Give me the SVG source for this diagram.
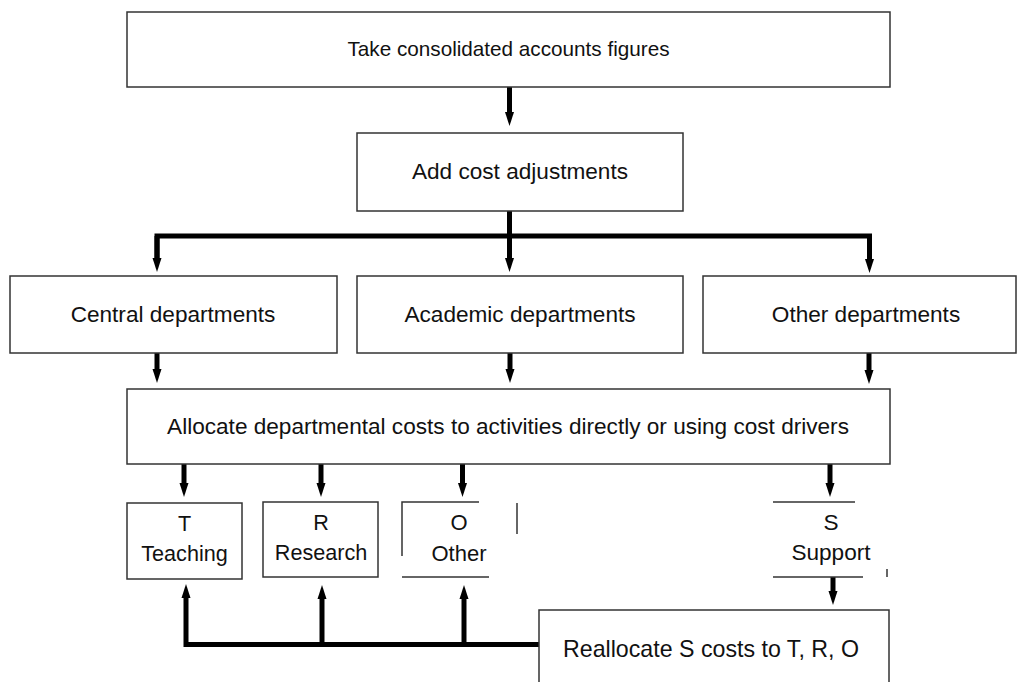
<svg xmlns="http://www.w3.org/2000/svg" width="1017" height="682" viewBox="0 0 1017 682">
  <style>
    .box { fill: #ffffff; stroke: #333333; stroke-width: 1.5; }
    .edge { fill: none; stroke: #333333; stroke-width: 1.5; }
    .flow { fill: none; stroke: #000000; stroke-width: 5; }
    .lbl { font-family: "Liberation Sans", Arial, Helvetica, sans-serif; font-size: 22.6px; fill: #111111; text-anchor: middle; }
  </style>
  <defs>
    <marker id="head" markerUnits="userSpaceOnUse" orient="auto" markerWidth="30" markerHeight="30" viewBox="-10 -10 30 20" refX="0" refY="0" overflow="visible">
      <path d="M-4,-4.5 L10,0 L-4,4.5 Z" fill="#000000"/>
    </marker>
  </defs>

  <rect width="1017" height="682" fill="#ffffff"/>

  <!-- connectors -->
  <g id="connectors">
    <path class="flow" d="M509.5,87 V116" marker-end="url(#head)"/>
    <path class="flow" d="M509.5,211 V262" marker-end="url(#head)"/>
    <path class="flow" d="M157,262 V236 H869.5 V262" />
    <path class="flow" d="M157,236 V262" marker-end="url(#head)"/>
    <path class="flow" d="M869.5,236 V263" marker-end="url(#head)"/>

    <path class="flow" d="M157,353 V373" marker-end="url(#head)"/>
    <path class="flow" d="M510,353 V373" marker-end="url(#head)"/>
    <path class="flow" d="M869,353 V374" marker-end="url(#head)"/>

    <path class="flow" d="M184,464 V487" marker-end="url(#head)"/>
    <path class="flow" d="M321,464 V487" marker-end="url(#head)"/>
    <path class="flow" d="M462.5,464 V487" marker-end="url(#head)"/>
    <path class="flow" d="M830,464 V487" marker-end="url(#head)"/>

    <path class="flow" d="M833,577 V595" marker-end="url(#head)"/>

    <path class="flow" d="M539,644.5 H186 V594" marker-end="url(#head)"/>
    <path class="flow" d="M322,644.5 V595" marker-end="url(#head)"/>
    <path class="flow" d="M464,644.5 V595" marker-end="url(#head)"/>
  </g>

  <g id="take-figures">
    <rect class="box" x="127" y="12" width="763" height="75"/>
    <text class="lbl" x="508.5" y="56" style="font-size:20.7px">Take consolidated accounts figures</text>
  </g>

  <g id="add-adjustments">
    <rect class="box" x="357" y="133" width="326" height="78"/>
    <text class="lbl" x="520" y="179">Add cost adjustments</text>
  </g>

  <g id="central-departments">
    <rect class="box" x="10" y="276" width="327" height="77"/>
    <text class="lbl" x="173" y="322">Central departments</text>
  </g>

  <g id="academic-departments">
    <rect class="box" x="357" y="276" width="326" height="77"/>
    <text class="lbl" x="520" y="322">Academic departments</text>
  </g>

  <g id="other-departments">
    <rect class="box" x="703" y="276" width="313" height="77"/>
    <text class="lbl" x="866" y="322">Other departments</text>
  </g>

  <g id="allocate">
    <rect class="box" x="127" y="389" width="763" height="75"/>
    <text class="lbl" x="508" y="434">Allocate departmental costs to activities directly or using cost drivers</text>
  </g>

  <g id="teaching">
    <rect class="box" x="127" y="503" width="115" height="76"/>
    <text class="lbl" x="184.5" y="531" style="font-size:21.6px">T</text>
    <text class="lbl" x="184.5" y="561" style="font-size:21.6px">Teaching</text>
  </g>

  <g id="research">
    <rect class="box" x="263" y="502" width="115" height="75"/>
    <text class="lbl" x="321" y="530" style="font-size:21.6px">R</text>
    <text class="lbl" x="321" y="560" style="font-size:21.6px">Research</text>
  </g>

  <g id="other">
    <path class="edge" d="M402,556 V502 H479"/>
    <path class="edge" d="M402,577 H489"/>
    <path class="edge" d="M517,503 V534"/>
    <text class="lbl" x="459" y="530" style="font-size:22px">O</text>
    <text class="lbl" x="459" y="561" style="font-size:22px">Other</text>
  </g>

  <g id="support">
    <path class="edge" d="M773,502 H855"/>
    <path class="edge" d="M773,577 H863"/>
    <path class="edge" d="M887,569 V577"/>
    <text class="lbl" x="831" y="530">S</text>
    <text class="lbl" x="831" y="560">Support</text>
  </g>

  <g id="reallocate">
    <rect class="box" x="539" y="610" width="350" height="90"/>
    <text class="lbl" x="711" y="657" style="font-size:23.2px">Reallocate S costs to T, R, O</text>
  </g>
</svg>
